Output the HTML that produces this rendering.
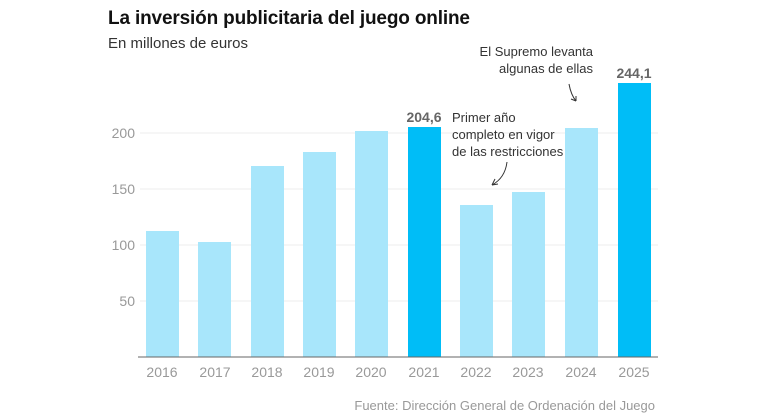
<!DOCTYPE html>
<html><head><meta charset="utf-8"><style>
body{margin:0;background:#fff;}
svg{display:block;font-family:"Liberation Sans",sans-serif;}
</style></head><body>
<svg width="768" height="420" viewBox="0 0 768 420" xmlns="http://www.w3.org/2000/svg">
<text x="108" y="24" font-size="19" font-weight="bold" fill="#111" textLength="362">La inversión publicitaria del juego online</text>
<text x="108" y="48" font-size="15" fill="#333" textLength="140">En millones de euros</text>
<g stroke="#eee" stroke-width="1">
<line x1="140" x2="658" y1="133" y2="133"/>
<line x1="140" x2="658" y1="189" y2="189"/>
<line x1="140" x2="658" y1="245" y2="245"/>
<line x1="140" x2="658" y1="301" y2="301"/>
</g>
<g font-size="14" fill="#999" text-anchor="end">
<text x="135" y="138">200</text><text x="135" y="194">150</text><text x="135" y="250">100</text><text x="135" y="306">50</text>
</g>
<g fill="#a8e6fb">
<rect x="146" y="231" width="33" height="126"/>
<rect x="198" y="242" width="33" height="115"/>
<rect x="251" y="166" width="33" height="191"/>
<rect x="303" y="152" width="33" height="205"/>
<rect x="355" y="131" width="33" height="226"/>
<rect x="460" y="205" width="33" height="152"/>
<rect x="512" y="192" width="33" height="165"/>
<rect x="565" y="128" width="33" height="229"/>
</g>
<g fill="#00bdf7">
<rect x="408" y="127" width="33" height="230"/>
<rect x="618" y="83" width="33" height="274"/>
</g>
<line x1="138" x2="658" y1="357" y2="357" stroke="#666" stroke-width="1"/>
<g font-size="14" fill="#999" text-anchor="middle">
<text x="162" y="377">2016</text><text x="215" y="377">2017</text><text x="267" y="377">2018</text><text x="319" y="377">2019</text><text x="371" y="377">2020</text><text x="424" y="377">2021</text><text x="476" y="377">2022</text><text x="528" y="377">2023</text><text x="581" y="377">2024</text><text x="634" y="377">2025</text>
</g>
<g font-size="14" font-weight="bold" fill="#666" text-anchor="middle">
<text x="424" y="122">204,6</text><text x="634" y="78">244,1</text>
</g>
<g font-size="13" fill="#333">
<text x="452" y="122">Primer año</text>
<text x="452" y="139">completo en vigor</text>
<text x="452" y="156">de las restricciones</text>
<text x="593" y="56" text-anchor="end">El Supremo levanta</text>
<text x="593" y="73" text-anchor="end">algunas de ellas</text>
</g>
<g fill="none" stroke="#333" stroke-width="1">
<path d="M507 162 Q505 178 492 185"/><path d="M492 185 l3 -6 M492 185 l6 -1"/>
<path d="M569 84 Q571 95 576 101"/><path d="M576 101 l-5 -2 M576 101 l0 -5"/>
</g>
<text x="655" y="410" font-size="13" fill="#999" text-anchor="end">Fuente: Dirección General de Ordenación del Juego</text>
</svg>
</body></html>
